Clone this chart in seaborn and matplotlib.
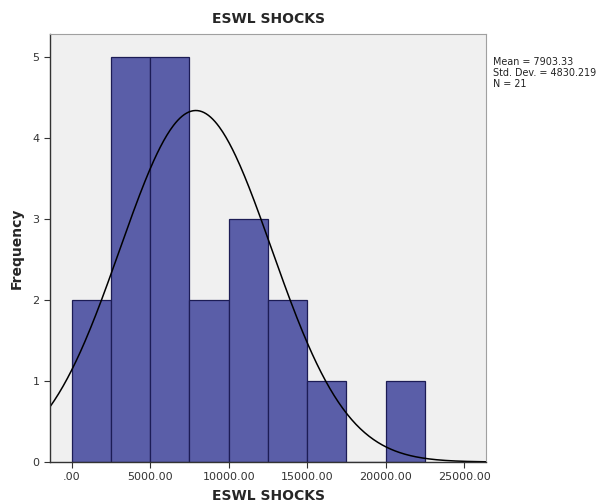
import numpy as np
import pandas as pd
import matplotlib
matplotlib.use("Agg")
import matplotlib.pyplot as plt
import seaborn as sns

# Data
bin_edges = [0, 2500, 5000, 7500, 10000, 12500, 15000, 17500, 20000, 22500]
counts = [2, 5, 5, 2, 3, 2, 1, 0, 1]
mean_val = 7903.33
std_val = 4830.219
n_val = 21
x_ticks = [0, 5000, 10000, 15000, 20000, 25000]
x_tick_labels = [".00", "5000.00", "10000.00", "15000.00", "20000.00", "25000.00"]
y_ticks = [0, 1, 2, 3, 4, 5]

sns.set_theme(style="white")
plt.rcParams['font.family'] = ['DejaVu Sans']

fig = plt.figure(figsize=(5.98, 5.04), dpi=100)
ax = fig.add_axes([50/598, 42/504, 436/598, 428/504])
ax.set_facecolor("#f0f0f0")

centers = [(bin_edges[i] + bin_edges[i+1]) / 2 for i in range(len(counts))]
df = pd.DataFrame({"x": centers, "w": counts})
sns.histplot(data=df, x="x", weights="w", bins=bin_edges, ax=ax,
             color="#5a5ea8", alpha=1.0, edgecolor="#1c1c55", linewidth=0.9)

xlim = (-1390, 26400)
xs = np.linspace(xlim[0], xlim[1], 400)
binw = bin_edges[1] - bin_edges[0]
ys = n_val * binw / (std_val * np.sqrt(2 * np.pi)) * np.exp(-0.5 * ((xs - mean_val) / std_val) ** 2)
sns.lineplot(x=xs, y=ys, ax=ax, color="black", linewidth=1.1)

ax.set_xlim(*xlim)
ax.set_ylim(0, 5.28)
ax.set_xticks(x_ticks)
ax.set_xticklabels(x_tick_labels)
ax.set_yticks(y_ticks)
ax.tick_params(axis="both", which="both", length=4, width=0.8, color="#333333",
               labelsize=8, labelcolor="#333333", direction="out", bottom=True, left=True)

for side in ["top", "right"]:
    ax.spines[side].set_color("#a0a0a0")
    ax.spines[side].set_linewidth(0.8)
for side in ["left", "bottom"]:
    ax.spines[side].set_color("#333333")
    ax.spines[side].set_linewidth(1.0)

ax.set_xlabel("ESWL SHOCKS", fontsize=10, fontweight="bold", labelpad=5)
ax.set_ylabel("Frequency", fontsize=10, fontweight="bold", labelpad=6)
ax.set_title("ESWL SHOCKS", fontsize=10, fontweight="bold", pad=8)

fig.text(493/598, 1 - 57/504, f"Mean = {mean_val:.2f}\nStd. Dev. = {std_val:.3f}\nN = {n_val}",
         fontsize=6.9, va="top", ha="left", color="#222222", linespacing=1.15)

fig.savefig("out.png", dpi=100, facecolor="white")
